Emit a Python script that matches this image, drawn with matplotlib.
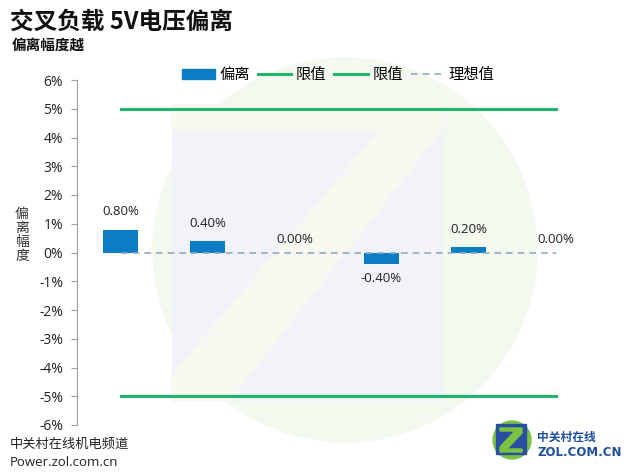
import matplotlib
matplotlib.use("Agg")
import matplotlib.pyplot as plt
from matplotlib.patches import Circle, Polygon, Rectangle, Patch
from matplotlib.lines import Line2D

plt.rcParams['font.family'] = ['Noto Sans CJK SC', 'DejaVu Sans']

categories = ["1", "2", "3", "4", "5", "6"]
deviation = [0.80, 0.40, 0.00, -0.40, 0.20, 0.00]
upper_limit = [5, 5, 5, 5, 5, 5]
lower_limit = [-5, -5, -5, -5, -5, -5]
ideal = [0, 0, 0, 0, 0, 0]
yticks = [-6, -5, -4, -3, -2, -1, 0, 1, 2, 3, 4, 5, 6]

bar_color = "#0a7dc6"
green = "#22b46c"
dash_color = "#8fa9c6"
num_font = ["Open Sans", "DejaVu Sans"]

fig = plt.figure(figsize=(6.4, 4.75), dpi=100)

# watermark background
bg = fig.add_axes([0, 0, 1, 1], zorder=0)
bg.set_xlim(0, 640)
bg.set_ylim(475, 0)
bg.axis("off")
bg.add_patch(Circle((345, 250), 192, color="#f4f9ef", zorder=0))
bg.add_patch(Rectangle((172, 105), 270, 295, color="#f2f3f9", zorder=1))
bg.add_patch(Polygon([(172, 105), (442, 105), (442, 130), (230, 400), (172, 400), (172, 375), (380, 130), (172, 130)],
                     closed=True, color="#f7f8ef", zorder=2))

ax = fig.add_axes([77/640, 50/475, 522/640, 345/475], zorder=2)
ax.patch.set_alpha(0)
x = list(range(len(categories)))

ax.bar(x, deviation, width=0.4, color=bar_color, zorder=3)
ax.plot(x, upper_limit, color=green, lw=2.2, zorder=2)
ax.plot(x, lower_limit, color=green, lw=2.2, zorder=2)
ax.plot(x, ideal, color=dash_color, lw=1.2, ls=(0, (4, 3)), zorder=4)

for xi, v in zip(x, deviation):
    if v > 0:
        off, va = 8, "bottom"
    elif v < 0:
        off, va = -6, "top"
    else:
        off, va = 5, "bottom"
    ax.annotate(f"{v:.2f}%", (xi, v), xytext=(0, off), textcoords="offset points",
                ha="center", va=va, fontsize=9.5, color="#222222", family=num_font)

ax.set_xlim(-0.5, len(categories) - 0.5)
ax.set_ylim(-6, 6)
ax.set_yticks(yticks)
ax.set_yticklabels([f"{t}%" for t in yticks], fontsize=10, color="#222222", family=num_font)
ax.set_xticks([])
for s in ["top", "right", "bottom"]:
    ax.spines[s].set_visible(False)
ax.spines["left"].set_color("#a0a0a0")
ax.tick_params(axis="y", length=4, color="#a0a0a0", pad=6)

handles = [Patch(color=bar_color),
           Line2D([], [], color=green, lw=2.2),
           Line2D([], [], color=green, lw=2.2),
           Line2D([], [], color=dash_color, lw=1.2, ls=(0, (4, 3)))]
labels = ["偏离", "限值", "限值", "理想值"]
ax.legend(handles, labels, loc="upper center", bbox_to_anchor=(0.5, 1.08), ncol=4, frameon=False,
          fontsize=11, handlelength=2.2, handletextpad=0.3, columnspacing=0.5, handleheight=0.6)

fig.text(10/640, 1 - 22/475, "交叉负载 5V电压偏离", fontsize=17, fontweight="bold", va="center", ha="left", color="#111111")
fig.text(12/640, 1 - 45/475, "偏离幅度越", fontsize=10.5, fontweight="bold", va="center", ha="left", color="#111111")
fig.text(22/640, 1 - 235/475, "偏\n离\n幅\n度", fontsize=10, va="center", ha="center", color="#333333", linespacing=1.0)
fig.text(10/640, 1 - 444/475, "中关村在线机电频道", fontsize=9.5, va="center", ha="left", color="#222222")
fig.text(10/640, 1 - 463/475, "Power.zol.com.cn", fontsize=9.5, va="center", ha="left", color="#222222", family=num_font)

# logo
bg.add_patch(Circle((512, 440), 19, color="#7cc242", zorder=5))
bg.add_patch(Rectangle((496, 424), 30, 30, color="#2a4fa0", zorder=6))
bg.add_patch(Polygon([(500, 428), (522, 428), (522, 433), (507, 449), (522, 449), (522, 452), (500, 452), (500, 447), (515, 431), (500, 431)],
                     closed=True, color="#7cc242", zorder=7))
fig.text(537/640, 1 - 437/475, "中关村在线", fontsize=8.5, fontweight="bold", va="center", ha="left", color="#1f4fa0")
fig.text(537/640, 1 - 452/475, "ZOL.COM.CN", fontsize=8.5, fontweight="bold", va="center", ha="left", color="#1f4fa0", family=["DejaVu Sans"])

fig.savefig("out.png", dpi=100)
